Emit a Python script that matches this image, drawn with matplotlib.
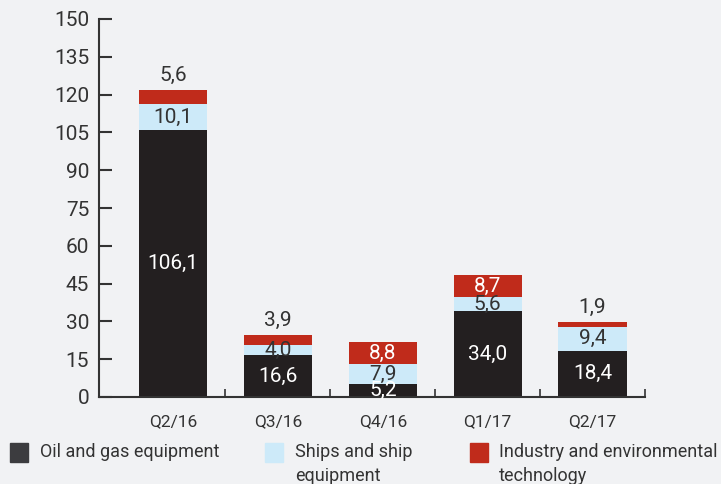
import numpy as np
import matplotlib.pyplot as plt
from matplotlib.patches import Rectangle

plt.rcParams['font.family'] = ['Roboto', 'DejaVu Sans']

# data
quarters = ['Q2/16', 'Q3/16', 'Q4/16', 'Q1/17', 'Q2/17']
oil_gas = [106.1, 16.6, 5.2, 34.0, 18.4]
ships = [10.1, 4.0, 7.9, 5.6, 9.4]
industry = [5.6, 3.9, 8.8, 8.7, 1.9]

series_names = ['Oil and gas equipment', 'Ships and ship\nequipment',
                'Industry and environmental\ntechnology']
colors = ['#231f20', '#cdeaf9', '#c02b1b']
legend_colors = ['#3c3c3f', '#cdeaf9', '#c02b1b']

bg = '#f1f2f4'
dark = '#333333'

fig = plt.figure(figsize=(7.21, 4.84), dpi=100, facecolor=bg)
ax = fig.add_axes([99 / 721, 87 / 484, 546 / 721, 378 / 484], facecolor=bg)

x = np.arange(len(quarters))
width = 0.65

oil = np.array(oil_gas)
shp = np.array(ships)
ind = np.array(industry)

ax.bar(x, oil, width, color=colors[0], zorder=2)
ax.bar(x, shp, width, bottom=oil, color=colors[1], zorder=2)
ax.bar(x, ind, width, bottom=oil + shp, color=colors[2], zorder=2)

fmt = lambda v: f'{v:.1f}'.replace('.', ',')
fs = 15

# labels inside the bars
for xi, v in zip(x, oil):
    ax.text(xi, v / 2, fmt(v), ha='center', va='center', fontsize=fs,
            color='white', zorder=3)
for xi, v, b in zip(x, shp, oil):
    ax.text(xi, b + v / 2, fmt(v), ha='center', va='center', fontsize=fs,
            color=dark, zorder=3)
for xi, v, b in zip(x, ind, oil + shp):
    if v >= 8:
        ax.text(xi, b + v / 2, fmt(v), ha='center', va='center', fontsize=fs,
                color='white', zorder=3)
    else:
        ax.annotate(fmt(v), xy=(xi, b + v), xytext=(0, 4),
                    textcoords='offset points', ha='center', va='bottom',
                    fontsize=fs, color=dark, zorder=3)

ax.set_ylim(0, 150)
ax.set_xlim(-0.705, 4.5)
ax.set_yticks(np.arange(0, 151, 15))
ax.set_xticks(x)
ax.set_xticklabels(quarters)
ax.set_xticks(x + 0.5, minor=True)

for s in ['top', 'right']:
    ax.spines[s].set_visible(False)
for s in ['left', 'bottom']:
    ax.spines[s].set_color(dark)
    ax.spines[s].set_linewidth(1.5)

ax.tick_params(axis='y', direction='in', length=9, width=1.5, color=dark,
               labelsize=15, labelcolor=dark, pad=7)
ax.tick_params(axis='x', which='major', length=0, labelsize=12.5,
               labelcolor=dark, pad=12)
ax.tick_params(axis='x', which='minor', direction='in', length=6, width=1.2,
               color=dark)

# legend
leg_x = [10, 265, 470]
txt_x = [40, 295, 499]
for lx, tx, c, name in zip(leg_x, txt_x, legend_colors, series_names):
    fig.add_artist(Rectangle((lx / 721, 1 - 462 / 484), 18 / 721, 19 / 484,
                             transform=fig.transFigure, color=c))
    fig.text(tx / 721, 1 - 443 / 484, name, ha='left', va='top', fontsize=13,
             color=dark, linespacing=1.45)

plt.savefig('out.png', dpi=100, facecolor=bg)
